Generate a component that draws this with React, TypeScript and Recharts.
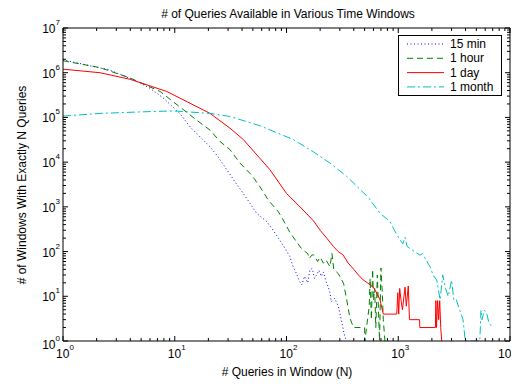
import { LineChart, Line, XAxis, YAxis } from 'recharts';

const W = 511;
const H = 376;
const FONT = '"Liberation Sans", Arial, Helvetica, sans-serif';

// 15 min windows
const min15N = [1, 1.6, 2.6, 3.5, 4.9, 6, 7.9, 11.1, 13.7, 16.8, 20.7, 24.5, 26.3, 34.7, 44, 54, 66.5, 76, 90.6, 97, 107, 115, 123, 130, 137, 145, 155, 162, 170, 178, 186, 195, 205, 214, 225, 237, 245, 251, 270, 291, 309, 331, 345];
const min15Count = [1.95e6, 1.5e6, 1.15e6, 8.5e5, 5.9e5, 4.5e5, 2.7e5, 1.23e5, 6.2e4, 3.7e4, 2.2e4, 1.3e4, 1.0e4, 3600, 1550, 720, 470, 300, 155, 117, 78, 45, 32, 22, 18, 28, 20, 39, 42, 25, 30, 38, 28, 35, 22, 16, 12, 7.6, 9, 5.9, 3, 1.3, 1];

// 1 hour windows
const hourN = [1, 2.14, 4, 7.4, 11.9, 15.7, 20.7, 25.4, 31.2, 38.4, 48.9, 57.9, 68.9, 84.5, 97, 107, 123, 135, 147, 155, 160, 168, 175, 190, 200, 214, 225, 245, 255, 265, 291, 324, 346, 370, 398, 500, 502, 550, 560, 575, 590, 600, 615, 630, 650, 665, 680, 700, 720, 735, 760];
const hourCount = [1.85e6, 1.3e6, 7.6e5, 3.8e5, 1.5e5, 8.7e4, 5.2e4, 2.9e4, 1.9e4, 9500, 5100, 2800, 1400, 780, 430, 270, 165, 120, 100, 90, 70, 83, 85, 60, 75, 55, 65, 46, 91, 40, 32, 19.5, 8.3, 3.2, 2, 2, 1, 6, 25, 3, 40, 8, 15, 2, 30, 5, 1, 43, 12, 3, 1];

// 1 day windows
const dayN = [1, 2.14, 4, 8.5, 20.7, 31.2, 41.1, 71, 100, 132, 174, 200, 229, 263, 290, 320, 357, 400, 440, 487, 530, 598, 640, 687, 735, 970, 990, 1010, 1030, 1060, 1090, 1150, 1180, 1230, 1260, 1550, 1560, 2150, 2170, 2200, 2250, 2300, 2350, 2400, 2450];
const dayCount = [1.2e6, 1.0e6, 7.1e5, 3.8e5, 1.23e5, 5.75e4, 3.2e4, 6800, 2000, 1000, 490, 300, 200, 130, 100, 85, 55, 40, 30, 23, 20, 16, 12, 8.3, 4, 4, 12, 4, 15, 8, 5, 16, 6, 17, 3, 3, 2, 2, 8, 2, 8, 3, 8, 2, 1];

// 1 month windows
const monthN = [1, 2.14, 5, 9.7, 20.7, 31.2, 58, 115, 174, 245, 346, 535, 687, 843, 960, 1040, 1100, 1150, 1200, 1270, 1400, 1570, 1650, 1740, 1920, 2050, 2210, 2370, 2500, 2650, 2800, 3000, 3150, 3310, 3550, 3800, 3980, 5370, 5500, 5620, 5900, 6170, 6500, 6900];
const monthCount = [1.07e5, 1.23e5, 1.33e5, 1.4e5, 1.23e5, 1.05e5, 6.5e4, 3.2e4, 1.7e4, 9500, 4800, 1660, 720, 470, 250, 180, 150, 210, 130, 117, 100, 83, 90, 71, 46, 30, 23, 8.3, 30, 15, 10, 23, 8, 8.3, 4.9, 3, 1, 1, 4.9, 3, 4.9, 4.2, 2.5, 2.1];

const seriesNames = ['15 min', '1 hour', '1 day', '1 month'];
const seriesColors = ['#0000ff', '#008000', '#ff0000', '#00bfbf'];
const seriesDash = ['1 2.5', '6 4', '', '8 3 2 3'];

const xDecades = [1, 10, 100, 1000, 10000];
const yDecades = [1, 10, 100, 1000, 10000, 100000, 1000000, 10000000];
const minorSteps = [2, 3, 4, 5, 6, 7, 8, 9];

const withMinor = (decades: number[]) => {
  const out: number[] = [];
  decades.forEach((d, i) => {
    out.push(d);
    if (i < decades.length - 1) minorSteps.forEach((m) => out.push(d * m));
  });
  return out;
};
const xTicks = withMinor(xDecades);
const yTicks = withMinor(yDecades);

const toRows = (ns: number[], counts: number[]) => ns.map((n, i) => ({ n, count: counts[i] }));
const seriesData = [
  toRows(min15N, min15Count),
  toRows(hourN, hourCount),
  toRows(dayN, dayCount),
  toRows(monthN, monthCount),
];

const exponent = (v: number) => Math.round(Math.log10(v));
const isMajor = (v: number) => Math.abs(Math.log10(v) - exponent(v)) < 1e-9;

function PowerLabel({ x, y, anchor, exp }: { x: number; y: number; anchor: string; exp: number }) {
  return (
    <text x={x} y={y} textAnchor={anchor} fontSize={12} fill="#000" fontFamily={FONT}>
      10<tspan dy={-8} fontSize={8}>{exp}</tspan>
    </text>
  );
}

function BottomTick(props: any) {
  const { x, y, payload } = props;
  const major = isMajor(payload.value);
  const e = exponent(payload.value);
  // last label sits at the right edge, keep it inside the page
  const shift = e === 4 ? -3 : 2;
  return (
    <g>
      <line x1={x} x2={x} y1={y} y2={y - (major ? 5 : 3)} stroke="#000" />
      {major && <PowerLabel x={x + shift} y={y + 17} anchor="middle" exp={e} />}
    </g>
  );
}

function TopTick(props: any) {
  const { x, y, payload } = props;
  const major = isMajor(payload.value);
  return <line x1={x} x2={x} y1={y} y2={y + (major ? 5 : 3)} stroke="#000" />;
}

function LeftTick(props: any) {
  const { x, y, payload } = props;
  const major = isMajor(payload.value);
  const e = exponent(payload.value);
  return (
    <g>
      <line x1={x} x2={x + (major ? 5 : 3)} y1={y} y2={y} stroke="#000" />
      {major && <PowerLabel x={x - 3} y={y + (e === 0 ? 8 : 5)} anchor="end" exp={e} />}
    </g>
  );
}

function RightTick(props: any) {
  const { x, y, payload } = props;
  const major = isMajor(payload.value);
  return <line x1={x} x2={x - (major ? 5 : 3)} y1={y} y2={y} stroke="#000" />;
}

const axisCommon = {
  type: 'number' as const,
  scale: 'log' as const,
  allowDataOverflow: true,
  interval: 0 as const,
  tickSize: 0,
  tickMargin: 0,
  tickLine: false,
  axisLine: { stroke: '#000' },
};

export default function App() {
  return (
    <div style={{ position: 'relative', width: W, height: H, fontFamily: FONT }}>
      <LineChart width={W} height={H} margin={{ top: 19, right: 8, bottom: 42, left: 54 }}>
        <XAxis
          {...axisCommon}
          dataKey="n"
          domain={[1, 10000]}
          ticks={xTicks}
          height={1}
          tick={(p: any) => <BottomTick {...p} />}
        />
        <XAxis
          {...axisCommon}
          xAxisId="top"
          orientation="top"
          dataKey="n"
          domain={[1, 10000]}
          ticks={xTicks}
          height={1}
          tick={(p: any) => <TopTick {...p} />}
        />
        <YAxis
          {...axisCommon}
          domain={[1, 1e7]}
          ticks={yTicks}
          width={1}
          tick={(p: any) => <LeftTick {...p} />}
        />
        <YAxis
          {...axisCommon}
          yAxisId="right"
          orientation="right"
          domain={[1, 1e7]}
          ticks={yTicks}
          width={1}
          tick={(p: any) => <RightTick {...p} />}
        />
        {seriesData.map((rows, i) => (
          <Line
            key={seriesNames[i]}
            data={rows}
            dataKey="count"
            name={seriesNames[i]}
            type="linear"
            stroke={seriesColors[i]}
            strokeWidth={1}
            strokeDasharray={seriesDash[i] || undefined}
            dot={false}
            activeDot={false}
            isAnimationActive={false}
          />
        ))}
      </LineChart>
      <svg
        width={W}
        height={H}
        style={{ position: 'absolute', left: 0, top: 0, pointerEvents: 'none' }}
        fontFamily={FONT}
      >
        <text x={280} y={10} textAnchor="middle" fontSize={12} fill="#000">
          # of Queries Available in Various Time Windows
        </text>
        <text x={279} y={368} textAnchor="middle" fontSize={12} fill="#000">
          # Queries in Window (N)
        </text>
        <text
          x={0}
          y={0}
          transform="translate(18, 177) rotate(-90)"
          textAnchor="middle"
          fontSize={12}
          fill="#000"
        >
          # of Windows With Exactly N Queries
        </text>
        <rect x={390.5} y={27.5} width={103} height={60} fill="#fff" stroke="#000" />
        {seriesNames.map((name, i) => {
          const cy = 36 + i * 14.3;
          return (
            <g key={name}>
              <line
                x1={399}
                x2={436}
                y1={cy}
                y2={cy}
                stroke={seriesColors[i]}
                strokeDasharray={seriesDash[i] || undefined}
              />
              <text x={442} y={cy + 4} fontSize={12} fill="#000">
                {name}
              </text>
            </g>
          );
        })}
      </svg>
    </div>
  );
}
